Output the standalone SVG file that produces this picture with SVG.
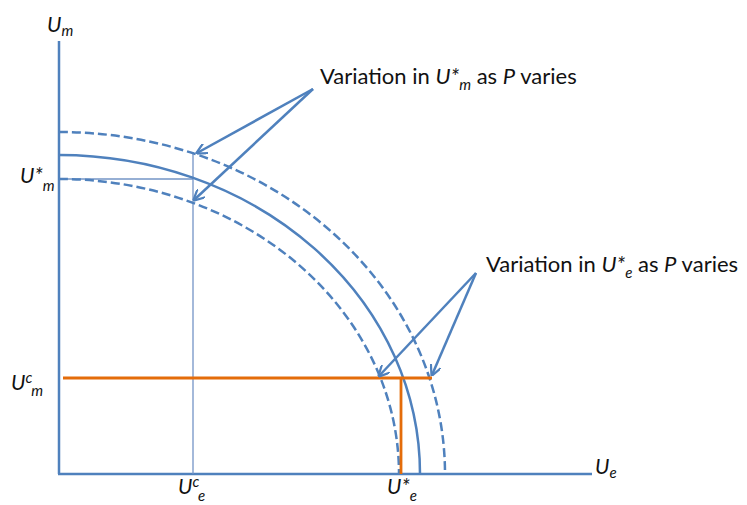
<svg xmlns="http://www.w3.org/2000/svg" width="747" height="505" viewBox="0 0 747 505">
<style>
.ax{stroke:#4F81BD;stroke-width:2.5;fill:none}
.cv{stroke:#4F81BD;stroke-width:2.5;fill:none}
.dash{stroke-dasharray:9 4}
.thin{stroke:#7394C6;stroke-width:1.3;fill:none}
.or{stroke:#E46C0A;stroke-width:2.8;fill:none}
.arr{stroke:#4F81BD;stroke-width:2.5;fill:none;marker-end:url(#ah)}
text{font-family:Lato,"Open Sans","Liberation Sans",sans-serif;fill:#111}
.lb{font-size:21px;font-style:italic}
.sb{font-size:15px;font-style:italic}
.tx{font-size:22px}
</style>
<defs>
<marker id="ah" viewBox="0 0 10 10" refX="9" refY="5" markerWidth="4.5" markerHeight="4.5" orient="auto" markerUnits="strokeWidth">
<path d="M0,0 L10,5 L0,10" fill="none" stroke="#4F81BD" stroke-width="2"/>
</marker>
</defs>
<rect width="747" height="505" fill="#fff"/>
<g id="axes">
<line class="ax" x1="59" y1="41" x2="59" y2="474"/>
<line class="ax" x1="58" y1="474" x2="592" y2="474"/>
</g>
<g id="guides">
<line class="thin" x1="59" y1="179" x2="193" y2="179"/>
<line class="thin" x1="193" y1="152" x2="193" y2="474"/>
</g>
<g id="curves">
<path id="outer" class="cv dash" d="M59,132 A386,342 0 0 1 445,474"/>
<path id="mid" class="cv" d="M59,155 A361,319 0 0 1 420,474"/>
<path id="inner" class="cv dash" d="M59,179 A340,295 0 0 1 399,474"/>
</g>
<g id="orange">
<line class="or" x1="63" y1="378" x2="432" y2="378"/>
<line class="or" x1="401" y1="378" x2="401" y2="474"/>
</g>
<g id="connectors">
<line class="arr" x1="313" y1="89" x2="197" y2="153"/>
<line class="arr" x1="313" y1="89" x2="194" y2="200"/>
<line class="arr" x1="476" y1="273" x2="379" y2="376"/>
<line class="arr" x1="476" y1="273" x2="432" y2="375"/>
</g>
<g id="labels">
<text class="lb" x="47" y="32">U<tspan class="sb" dy="4">m</tspan></text>
<text class="lb" x="20" y="183">U*<tspan class="sb" dy="8">m</tspan></text>
<text class="lb" x="11" y="390">U<tspan class="sb" dy="-7">c</tspan><tspan class="sb" dx="-1" dy="13">m</tspan></text>
<text class="lb" x="178" y="494">U<tspan class="sb" dy="-7">c</tspan><tspan class="sb" dx="-1" dy="14">e</tspan></text>
<text class="lb" x="387" y="494">U*<tspan class="sb" dy="7">e</tspan></text>
<text class="lb" x="595" y="474">U<tspan class="sb" dy="4">e</tspan></text>
</g>
<g id="note1">
<text class="tx" x="320" y="84">Variation in <tspan font-style="italic">U*</tspan><tspan class="sb" dy="6">m</tspan><tspan dy="-6"> as </tspan><tspan font-style="italic">P</tspan> varies</text>
</g>
<g id="note2">
<text class="tx" x="486" y="272">Variation in <tspan font-style="italic">U*</tspan><tspan class="sb" dy="6">e</tspan><tspan dy="-6"> as </tspan><tspan font-style="italic">P</tspan> varies</text>
</g>
</svg>
